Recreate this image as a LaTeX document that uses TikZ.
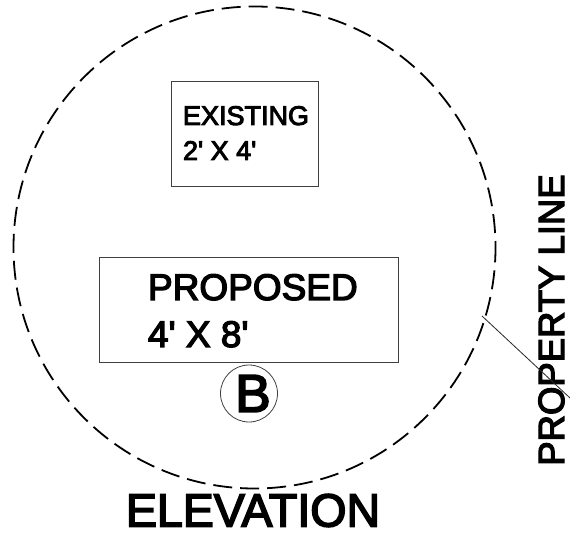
\documentclass[tikz,border=0pt]{standalone}
\usepackage{fontspec}
\setmainfont[FakeBold=3.5]{Liberation Sans}
\usetikzlibrary{positioning}
\newcommand{\ft}{\textquotesingle}
\begin{document}
\begin{tikzpicture}[
        x=1pt, y=-1pt,
        every node/.style={align=left, inner sep=0pt, outer sep=0pt, text=black},
        signbox/.style={draw=black!75, line width=0.8pt},
        ]

        \useasboundingbox (0,0) rectangle (570,534);

        % Lot boundary
        \node[draw=black, circle, dash pattern=on 19pt off 8pt, dash phase=12.5pt, line width=1.8pt, minimum size=482pt] (Lot) at (254.5,247.5) {};
        \coordinate (Lot_edge) at (482,316);

        % Signs
        \node[signbox, minimum width=147pt, minimum height=105pt] (Existing) at (244.5,134) {};
        \node[font=\fontsize{27}{35}\selectfont, anchor=base west] (Existing_text) at (183,125) {EXISTING};
        \node[font=\fontsize{27}{35}\selectfont, anchor=base west] (Existing_size) at (183,160) {2\ft{} X 4\ft};
        \node[signbox, minimum width=299pt, minimum height=105pt] (Proposed) at (248.5,309.5) {};
        \node[font=\fontsize{37}{47}\selectfont, anchor=base west] (Proposed_text) at (148,300) {PROPOSED};
        \node[font=\fontsize{37}{47}\selectfont, anchor=base west] (Proposed_size) at (148,347) {4\ft{} X 8\ft};

        % Marker
        \node[draw=black!75, circle, line width=0.8pt, minimum size=57pt] (Marker) at (249,393.5) {};
        \node[font=\fontsize{53}{55}\selectfont, xshift=4pt] (Marker_text) at (Marker) {B};

        % Labels
        \node[font=\fontsize{46.5}{50}\selectfont, anchor=base] (Elevation) at (253,526.5) {ELEVATION};
        \node[font=\fontsize{36.5}{40}\selectfont, anchor=base, rotate=90] (Property) at (564,320) {PROPERTY LINE};

        % Leader
        \coordinate (Leader_end) at (570,398);
        \draw[black!85, line width=0.8pt] (Lot_edge) -- (Leader_end);

    \end{tikzpicture}
\end{document}
